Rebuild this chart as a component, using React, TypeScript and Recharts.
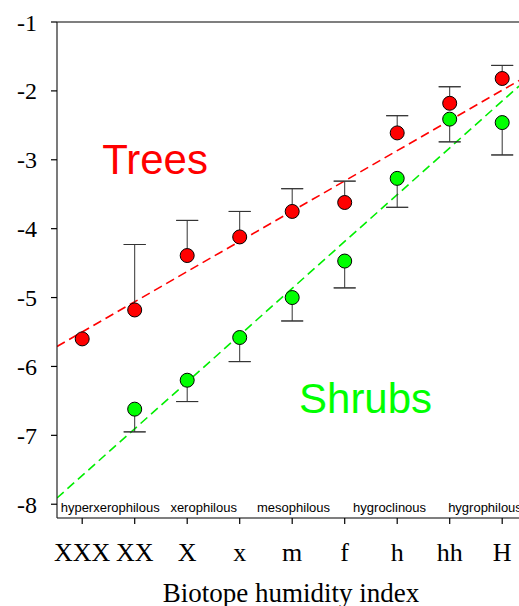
import {
  ComposedChart,
  ErrorBar,
  Line,
  ReferenceDot,
  ReferenceLine,
  Scatter,
  XAxis,
  YAxis,
} from "recharts";

const CATEGORIES = ["XXX", "XX", "X", "x", "m", "f", "h", "hh", "H"];
const POSITIONS = [1, 2, 3, 4, 5, 6, 7, 8, 9];
const Y_TICKS = [-1, -2, -3, -4, -5, -6, -7, -8];

// trees: mean and upper error
const TREE_MEANS = [-5.6, -5.18, -4.39, -4.12, -3.75, -3.62, -2.61, -2.18, -1.82];
const TREE_ERR_UP = [0, 0.95, 0.51, 0.37, 0.33, 0.31, 0.25, 0.24, 0.19];

// shrubs: mean and lower error (no value for XXX)
const SHRUB_MEANS = [null, -6.62, -6.2, -5.58, -5.0, -4.47, -3.27, -2.41, -2.46];
const SHRUB_ERR_DOWN = [0, 0.33, 0.31, 0.35, 0.34, 0.39, 0.42, 0.33, 0.47];

// regression lines, end points
const TREE_TREND = [
  { u: 0.52, v: -5.71 },
  { u: 9.32, v: -1.85 },
];
const SHRUB_TREND = [
  { u: 0.52, v: -7.91 },
  { u: 9.32, v: -1.93 },
];

const GROUP_NAMES = ["hyperxerophilous", "xerophilous", "mesophilous", "hygroclinous", "hygrophilous"];
const GROUP_STARTS = [0.59, 2.68, 4.33, 6.16, 7.97];

const SERIF = "'Liberation Serif', 'Times New Roman', serif";
const SANS = "'Liberation Sans', Arial, sans-serif";

// error bars draw above the markers, so the stem stops at the marker edge
// (about 0.1 y units) instead of its centre
const MARK_GAP = 0.1;

const trees = TREE_MEANS.map((v, i) => ({ u: POSITIONS[i], v }));
const shrubs = SHRUB_MEANS.map((v, i) => ({ u: POSITIONS[i], v })).filter((d) => d.v !== null);

// one entry per bar, placed at the bar's outer end
const treeBars = TREE_MEANS.map((v, i) => ({
  u: POSITIONS[i],
  v: v + TREE_ERR_UP[i],
  stem: [TREE_ERR_UP[i] - MARK_GAP, 0],
  cap: [0, 0],
})).filter((_, i) => TREE_ERR_UP[i] > MARK_GAP);
const shrubBars = SHRUB_MEANS.map((v, i) => ({
  u: POSITIONS[i],
  v: v === null ? null : v - SHRUB_ERR_DOWN[i],
  stem: [0, SHRUB_ERR_DOWN[i] - MARK_GAP],
  cap: [0, 0],
})).filter((d, i) => d.v !== null && SHRUB_ERR_DOWN[i] > MARK_GAP);

const dot = (fill: string) => (p: any) => (
  <circle cx={p.cx} cy={p.cy} r={7} fill={fill} stroke="#000" strokeWidth={1} />
);
const noDot = () => <g />;

export default function App() {
  return (
    <div style={{ position: "fixed", left: 0, top: 0, width: 519, height: 606, background: "#fff" }}>
      <ComposedChart width={519} height={606} margin={{ top: 22, right: 0, bottom: 0, left: 0 }}>
        <XAxis
          type="number"
          dataKey="u"
          domain={[0.52, 9.32]}
          allowDataOverflow
          ticks={POSITIONS}
          interval={0}
          tickFormatter={(t) => CATEGORIES[t - 1] ?? ""}
          height={88}
          tickSize={6}
          tickMargin={18.5}
          axisLine={{ stroke: "#000", strokeWidth: 1.2 }}
          tickLine={{ stroke: "#000", strokeWidth: 1.2 }}
          tick={{ fontSize: 26, fill: "#000", fontFamily: SERIF }}
          label={{
            value: "Biotope humidity index",
            position: "insideBottom",
            offset: 4,
            dx: 3,
            fontSize: 27,
            fill: "#000",
            fontFamily: SERIF,
          }}
        />
        <YAxis
          type="number"
          dataKey="v"
          domain={[-8.2, -1]}
          allowDataOverflow
          ticks={Y_TICKS}
          interval={0}
          width={57}
          tickSize={6}
          tickMargin={14}
          axisLine={{ stroke: "#222", strokeWidth: 1.2 }}
          tickLine={{ stroke: "#000", strokeWidth: 1.2 }}
          tick={{ fontSize: 24, fill: "#000", fontFamily: SERIF }}
        />
        <ReferenceLine y={-1} stroke="#000" strokeWidth={1.2} />
        <Line
          data={TREE_TREND}
          dataKey="v"
          stroke="#ff0000"
          strokeWidth={1.6}
          strokeDasharray="9 5"
          dot={false}
          activeDot={false}
          isAnimationActive={false}
        />
        <Line
          data={SHRUB_TREND}
          dataKey="v"
          stroke="#00ee00"
          strokeWidth={1.6}
          strokeDasharray="9 5"
          dot={false}
          activeDot={false}
          isAnimationActive={false}
        />
        <Scatter data={trees} dataKey="v" shape={dot("#ff0000")} isAnimationActive={false} />
        <Scatter data={shrubs} dataKey="v" shape={dot("#00ff00")} isAnimationActive={false} />
        <Scatter data={treeBars} dataKey="v" shape={noDot} isAnimationActive={false}>
          <ErrorBar dataKey="stem" direction="y" width={0} stroke="#333" strokeWidth={1} />
          <ErrorBar dataKey="cap" direction="y" width={11} stroke="#333" strokeWidth={1} />
        </Scatter>
        <Scatter data={shrubBars} dataKey="v" shape={noDot} isAnimationActive={false}>
          <ErrorBar dataKey="stem" direction="y" width={0} stroke="#333" strokeWidth={1} />
          <ErrorBar dataKey="cap" direction="y" width={11} stroke="#333" strokeWidth={1} />
        </Scatter>
        {GROUP_NAMES.map((name, i) => (
          <ReferenceDot
            key={name}
            x={GROUP_STARTS[i]}
            y={-8.05}
            r={0}
            fill="none"
            stroke="none"
            label={{ value: name, position: "right", offset: 0, fontSize: 13, fill: "#000", fontFamily: SANS }}
          />
        ))}
        <ReferenceDot
          x={1.38}
          y={-2.99}
          r={0}
          fill="none"
          stroke="none"
          label={{ value: "Trees", position: "right", offset: 0, fontSize: 42, fill: "#ff0000", fontFamily: SANS }}
        />
        <ReferenceDot
          x={5.13}
          y={-6.46}
          r={0}
          fill="none"
          stroke="none"
          label={{ value: "Shrubs", position: "right", offset: 0, fontSize: 42, fill: "#00ff00", fontFamily: SANS }}
        />
      </ComposedChart>
    </div>
  );
}
